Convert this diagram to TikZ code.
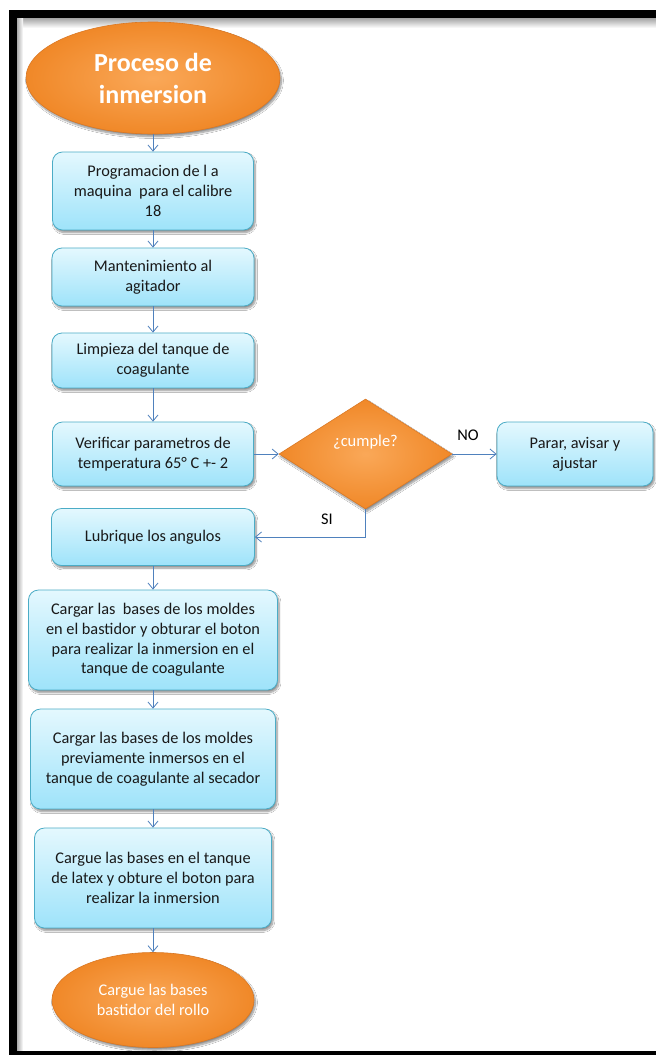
\documentclass[tikz,border=0pt]{standalone}
\usepackage{fontspec}
\setmainfont{Carlito}
\usetikzlibrary{shapes.geometric,arrows.meta,shadows.blur}

\definecolor{boxtop}{RGB}{228,248,254}
\definecolor{boxbot}{RGB}{158,227,250}
\definecolor{boxline}{RGB}{75,172,198}
\definecolor{flow}{RGB}{79,129,189}
\definecolor{orangeA}{RGB}{250,168,88}
\definecolor{orangeB}{RGB}{240,136,40}
\definecolor{orangeline}{RGB}{218,120,36}

\begin{document}
\begin{tikzpicture}[x=1pt,y=-1pt,
  softshadow/.style={blur shadow={shadow xshift=1.5pt, shadow yshift=-2.5pt,
      shadow blur steps=8, shadow opacity=45}},
  stepbox/.style={draw=boxline, line width=0.8pt, rounded corners=10pt,
      top color=boxtop, bottom color=boxbot, align=center, inner sep=0pt,
      font=\fontsize{16.3}{19.8}\selectfont, text=black!90, softshadow},
  terminal/.style={ellipse, draw=orangeline, line width=0.6pt,
      inner color=orangeA, outer color=orangeB, inner sep=0pt,
      align=center, text=white, softshadow},
  decision/.style={diamond, draw=orangeline, line width=0.6pt,
      inner color=orangeA, outer color=orangeB, inner sep=0pt, softshadow},
  flowline/.style={draw=flow, line width=0.8pt,
      -{Straight Barb[length=6pt,width=10pt]}},
  tag/.style={font=\fontsize{16.3}{19}\selectfont, text=black}]

\useasboundingbox (0,0) rectangle (656,1055);
\fill[white] (0,0) rectangle (656,1055);

% page frame with its inner shading
\shade[top color=gray!75, bottom color=white] (17,17.5) rectangle (656,28);
\shade[left color=gray!65, right color=white] (17,17.5) rectangle (23,1051);
\fill[black] (9,10) rectangle (656,17.5);
\fill[black] (9,10) rectangle (17,1055);
\fill[black] (9,1051) rectangle (656,1055);

% shapes
\node[terminal, minimum width=254pt, minimum height=112pt,
      font=\bfseries\fontsize{26}{32}\selectfont] (start) at (153,78)
  {Proceso de\\inmersion};
\node[stepbox, minimum width=201pt, minimum height=78pt] (b1) at (153,191)
  {Programacion de l a\\maquina\ \ para el calibre\\18};
\node[stepbox, minimum width=202pt, minimum height=58pt] (b2) at (153,277)
  {Mantenimiento al\\agitador};
\node[stepbox, minimum width=202pt, minimum height=55pt] (b3) at (153,360.5)
  {Limpieza del tanque de\\coagulante};
\node[stepbox, minimum width=201pt, minimum height=64pt] (b4) at (153,454)
  {Verificar parametros de\\temperatura 65° C +- 2};
\node[decision, minimum width=173pt, minimum height=110pt] (dec) at (365.5,454) {};
\node[font=\fontsize{16.5}{19}\selectfont, text=white] (q) at (365.5,442) {¿cumple?};
\node[stepbox, minimum width=156pt, minimum height=64pt] (b5) at (575,454)
  {Parar, avisar y\\ajustar};
\node[stepbox, minimum width=203pt, minimum height=57pt] (b6) at (153,537)
  {Lubrique los angulos};
\node[stepbox, minimum width=249pt, minimum height=100pt] (b7) at (153,640)
  {Cargar las\ \ bases de los moldes\\en el bastidor y obturar el boton\\para realizar la inmersion en el\\tanque de coagulante};
\node[stepbox, minimum width=245pt, minimum height=100pt] (b8) at (153,759)
  {Cargar las bases de los moldes\\previamente inmersos en el\\tanque de coagulante al secador};
\node[stepbox, minimum width=237pt, minimum height=100pt] (b9) at (153,878)
  {Cargue las bases en el tanque\\de latex y obture el boton para\\realizar la inmersion};
\node[terminal, minimum width=202pt, minimum height=95pt,
      font=\fontsize{16.3}{20}\selectfont] (end) at (153,1000)
  {Cargue las bases\\bastidor del rollo};

% connectors
\draw[flowline] (start) -- (b1);
\draw[flowline] (b1) -- (b2);
\draw[flowline] (b2) -- (b3);
\draw[flowline] (b3) -- (b4);
\draw[flowline] (b4) -- (dec);
\draw[flowline] (dec) -- (b5);
\draw[flowline] (dec.south) |- (b6.east);
\draw[flowline] (b6) -- (b7);
\draw[flowline] (b7) -- (b8);
\draw[flowline] (b8) -- (b9);
\draw[flowline] (b9) -- (end);

% branch labels
\node[tag] (no) at (468,435) {NO};
\node[tag] (si) at (327,519) {SI};
\end{tikzpicture}
\end{document}
